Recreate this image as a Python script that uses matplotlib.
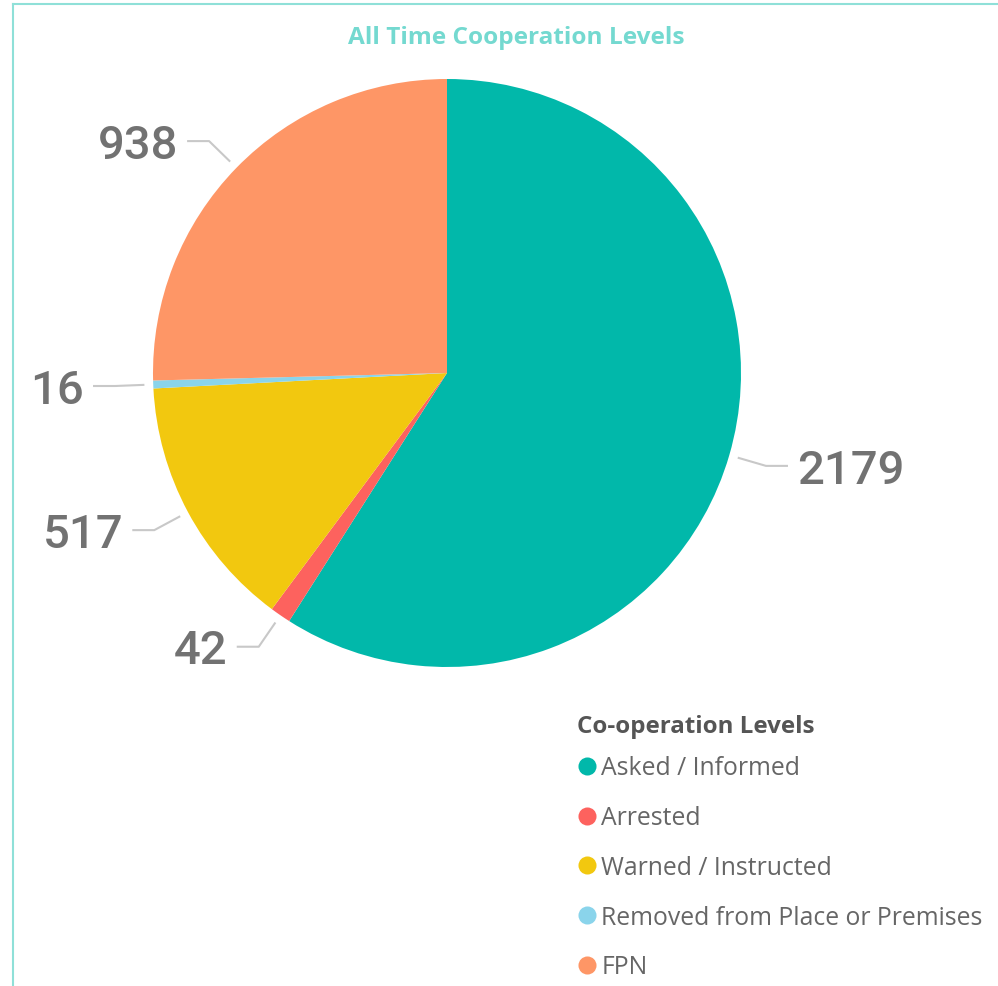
import numpy as np
import matplotlib.pyplot as plt
from matplotlib.lines import Line2D

# data
levels = ["Asked / Informed", "Arrested", "Warned / Instructed",
          "Removed from Place or Premises", "FPN"]
counts = [2179, 42, 517, 16, 938]
colours = ["#01B8AA", "#FD625E", "#F2C80F", "#8AD4EB", "#FE9666"]

W, H = 998, 987
fig = plt.figure(figsize=(W / 100, H / 100), dpi=100)
ax = fig.add_axes([0, 0, 1, 1])

# pie in pixel-like coords (y up)
cx, cy, r = 447, H - 374, 294
wedges, _ = ax.pie(counts, colors=colours, startangle=90, counterclock=False,
                   center=(cx, cy), radius=r, wedgeprops=dict(linewidth=0))
ax.set_xlim(0, W)
ax.set_ylim(0, H)
ax.set_aspect('auto')
ax.axis('off')

# data labels with leader lines
label_size = 34
label_px = label_size * 100 / 72
for w, v in zip(wedges, counts):
    ang = np.deg2rad((w.theta1 + w.theta2) / 2)
    ux, uy = np.cos(ang), np.sin(ang)
    x0, y0 = cx + 1.03 * r * ux, cy + 1.03 * r * uy
    x1, y1 = cx + 1.13 * r * ux, cy + 1.13 * r * uy
    side = 1 if ux > 0 else -1
    x2 = x1 + side * 22
    ax.plot([x0, x1, x2], [y0, y1, y1], color="#c8c8c8", lw=1.5,
            solid_capstyle='butt')
    ax.text(x2 + side * 9, y1 - 0.355 * label_px, str(v),
            ha='left' if side > 0 else 'right', va='baseline',
            fontsize=label_size, color="#727272", family="Roboto",
            fontweight='medium')

# title
fig.text(516 / W, 1 - 38 / H, "All Time Cooperation Levels", ha='center',
         va='center', fontsize=17.6, fontweight='bold', color="#74d9d0",
         family="Open Sans")

# frame lines at top and left
border = "#8fe0d8"
fig.add_artist(Line2D([12.5 / W, 12.5 / W], [0, 1 - 4.5 / H], color=border,
                      lw=1.5, transform=fig.transFigure))
fig.add_artist(Line2D([12.5 / W, 1], [1 - 4.5 / H, 1 - 4.5 / H], color=border,
                      lw=1.5, transform=fig.transFigure))

# legend (title drawn separately so the gap can be set)
fig.text(577 / W, 1 - 727 / H, "Co-operation Levels", ha='left', va='center',
         fontsize=17.4, fontweight='bold', color="#555555", family="Open Sans")
handles = [Line2D([], [], marker='o', linestyle='', markersize=13,
                  markerfacecolor=c, markeredgewidth=0) for c in colours]
leg = fig.legend(handles, levels, loc='upper left',
                 bbox_to_anchor=(578 / W, 1 - 756.5 / H),
                 frameon=False, prop=dict(family="Open Sans", size=17.8),
                 handlelength=0.75, handletextpad=0.2,
                 labelspacing=1.0, borderpad=0, borderaxespad=0,
                 labelcolor="#666666")

fig.savefig("out.png", dpi=100)
